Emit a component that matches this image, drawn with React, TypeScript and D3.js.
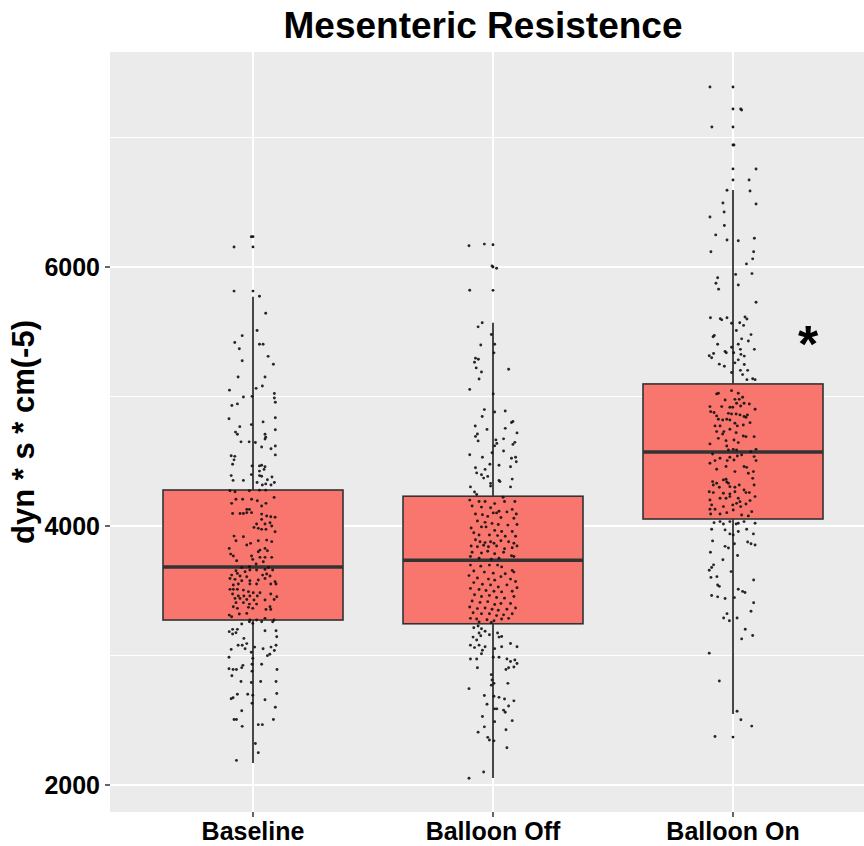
import * as d3 from "d3";

// Group labels and the box statistics (dyn * s * cm(-5))
const categories = ["Baseline", "Balloon Off", "Balloon On"];
const boxLower = [2170, 2054, 2548];
const boxQ1 = [3274, 3245, 4054];
const boxMedian = [3683, 3735, 4571];
const boxQ3 = [4278, 4230, 5097];
const boxUpper = [5770, 5570, 6595];
const boxOutliers = [
  [6234, 6155, 5814],
  [6172, 6000, 5820],
  [7390, 7220, 7081, 6942, 6757, 6672, 2370],
];

const yMajor = [2000, 4000, 6000];
const yMinor = [3000, 5000, 7000];

// jittered observations: [offset in category widths, value]
const baselinePts: [number, number][] = [
  [-0.007, 6234], [-0.079, 6155], [-0.079, 5814], [0.027, 5774], [0.053, 5643], [0.017, 5510], [-0.045, 5470],
  [-0.076, 5417], [0.027, 5404], [0.042, 5404], [-0.057, 5369], [0.063, 5310], [-0.045, 5276], [0.085, 5249],
  [-0.062, 5151], [0.05, 5151], [0.039, 5081], [0.013, 5063], [-0.098, 5049], [-0.04, 4996], [-0.004, 5001],
  [0.089, 5023], [0.089, 4988], [0.093, 4956], [-0.088, 4930], [-0.065, 4943], [-0.1, 4828], [0.042, 4804],
  [0.093, 4836], [-0.055, 4767], [-0.073, 4725], [-0.065, 4709], [0.05, 4709], [0.053, 4685], [0.05, 4671],
  [-0.007, 4783], [-0.05, 4650], [-0.016, 4650], [0.01, 4645], [0.036, 4610], [0.075, 4597], [0.093, 4618],
  [0.093, 4743], [0.093, 4549], [-0.091, 4543], [-0.076, 4538], [-0.079, 4511], [-0.085, 4477], [-0.004, 4464],
  [-0.091, 4389], [-0.083, 4352], [-0.04, 4352], [-0.007, 4397], [0.027, 4464], [0.036, 4469], [0.05, 4458],
  [0.027, 4424], [0.046, 4437], [0.027, 4389], [0.036, 4384], [0.079, 4378], [0.06, 4357], [0.017, 4336],
  [0.039, 4317], [0.053, 4325], [0.075, 4317], [0.089, 4336], [0.027, 4277], [0.053, 4277],
  [-0.096, 4272], [-0.075, 4265], [-0.015, 4272], [0.088, 4221], [-0.071, 4206], [-0.043, 4206], [-0.006, 4206],
  [0.018, 4195], [0.054, 4175], [-0.089, 4175], [0.036, 4154], [-0.026, 4128], [-0.015, 4128], [-0.026, 4103],
  [-0.006, 4103], [-0.085, 4097], [-0.054, 4097], [-0.04, 4097], [0.036, 4092], [0.057, 4077], [0.074, 4072],
  [0.092, 4067], [0.036, 4051], [0.071, 4025], [0.015, 4015], [0.05, 4015], [0.004, 3989], [0.022, 3982],
  [0.036, 3974], [0.054, 3974], [0.078, 4000], [0.092, 3956], [-0.079, 3922], [-0.04, 3917], [-0.071, 3886],
  [0.057, 3891], [-0.026, 3853], [-0.01, 3866], [0.022, 3886], [0.078, 3879], [-0.099, 3827], [0.05, 3827],
  [0.029, 3814], [0.022, 3801], [0.06, 3809], [-0.093, 3783], [-0.082, 3768], [-0.068, 3732], [-0.006, 3768],
  [-0.001, 3742], [0.029, 3758], [0.05, 3758], [0.078, 3758], [0.043, 3724], [0.013, 3706], [-0.015, 3686],
  [-0.047, 3680], [0.064, 3680], [-0.071, 3655], [-0.065, 3634], [-0.033, 3647], [-0.013, 3660], [0.015, 3660],
  [0.05, 3665], [0.082, 3660], [-0.089, 3621], [-0.054, 3614], [-0.026, 3608], [0.04, 3621], [0.057, 3629],
  [0.071, 3614], [-0.096, 3595], [-0.075, 3588], [-0.047, 3577], [-0.013, 3577], [0.022, 3583], [0.05, 3595],
  [0.092, 3570], [0.096, 3552], [-0.061, 3552], [-0.013, 3552], [0.015, 3552], [-0.082, 3544], [0.074, 3552],
  [-0.096, 3511], [-0.082, 3511], [-0.065, 3511], [-0.04, 3505], [-0.019, 3493], [0.001, 3485], [0.029, 3485],
  [0.074, 3475], [-0.085, 3475], [-0.061, 3459], [-0.038, 3459], [-0.013, 3459], [0.018, 3459], [0.099, 3454],
  [-0.075, 3441], [-0.054, 3441], [-0.026, 3433], [0.004, 3428], [0.05, 3428], [0.088, 3433], [-0.071, 3408],
  [-0.04, 3408], [-0.015, 3397], [0.015, 3397], [-0.082, 3377], [-0.065, 3364], [-0.019, 3372], [-0.001, 3364],
  [0.054, 3356], [0.071, 3377], [0.074, 3356], [-0.099, 3312], [-0.089, 3299], [-0.057, 3320], [-0.026, 3325],
  [-0.013, 3274], [0.015, 3274], [0.05, 3287], [0.082, 3261], [0.088, 3274],
  [-0.085, 3202], [-0.065, 3202], [-0.047, 3243], [-0.015, 3261], [-0.001, 3248], [0.036, 3261], [0.05, 3191],
  [0.096, 3191], [-0.099, 3184], [-0.085, 3166], [-0.071, 3176], [-0.038, 3132], [0.099, 3145],
  [-0.062, 3079], [-0.045, 3079], [-0.026, 3092], [-0.033, 3052], [-0.007, 3025], [-0.091, 3047], [-0.1, 2986],
  [0.007, 3065], [0.042, 3052], [0.075, 3065], [0.089, 3039], [0.06, 2999], [0.07, 3010], [0.096, 3079],
  [-0.001, 2978], [0.036, 2932], [-0.1, 2898], [-0.083, 2892], [-0.069, 2892], [-0.047, 2906], [-0.042, 2924],
  [-0.004, 2932], [-0.004, 2879], [0.1, 2892], [-0.088, 2844], [-0.05, 2799], [-0.007, 2791], [0.032, 2799],
  [0.096, 2799], [-0.065, 2701], [-0.083, 2674], [-0.091, 2666], [-0.022, 2701], [-0.001, 2693], [0.05, 2658],
  [0.099, 2706], [-0.004, 2631], [0.093, 2600], [-0.047, 2573], [-0.079, 2506], [-0.069, 2506], [-0.045, 2453],
  [0.085, 2506], [0.022, 2466], [0.039, 2466], [0.01, 2320], [0.022, 2250], [-0.069, 2190],
];

const balloonOffPts: [number, number][] = [
  [-0.1, 6164], [-0.036, 6177], [-0.004, 6008], [0.015, 5990], [-0.097, 5820], [-0.062, 5538], [-0.045, 5570],
  [-0.007, 5479], [-0.051, 5398], [0.007, 5404], [0.004, 5337], [-0.073, 5296], [-0.061, 5288], [-0.077, 5264],
  [-0.07, 5221], [-0.048, 5189], [0.065, 5210], [-0.058, 5135], [-0.097, 5055], [0.001, 5020], [-0.036, 4899],
  [-0.045, 4845], [0.007, 4880], [0.051, 4888], [0.077, 4799], [0.083, 4807], [-0.074, 4772], [-0.025, 4746],
  [0.051, 4754], [-0.065, 4711], [-0.073, 4692], [0.012, 4665], [0.016, 4638], [0.007, 4619], [0.044, 4673],
  [-0.062, 4657], [0.1, 4719], [0.091, 4646], [0.083, 4630], [0.044, 4579], [-0.004, 4566], [-0.097, 4550],
  [-0.044, 4531], [0.094, 4531], [0.077, 4523], [0.097, 4496], [0.073, 4458], [0.025, 4469], [-0.013, 4477],
  [-0.073, 4450], [-0.068, 4410], [-0.048, 4396], [-0.033, 4437], [-0.022, 4383], [-0.039, 4370], [-0.01, 4329],
  [-0.01, 4308], [0.025, 4351], [0.029, 4343], [0.08, 4362], [0.073, 4302], [-0.094, 4302], [-0.077, 4262],
  [-0.068, 4243], [0.042, 4222],
  [-0.097, 4200], [-0.058, 4189], [-0.033, 4189], [0.007, 4173], [0.048, 4189], [0.091, 4189], [-0.087, 4154],
  [-0.048, 4146], [-0.01, 4141], [0.025, 4114], [0.058, 4109], [0.08, 4128], [-0.073, 4093], [-0.044, 4087],
  [-0.022, 4074], [0.001, 4101], [0.015, 4101], [0.033, 4066], [0.087, 4060], [0.097, 4093], [-0.065, 4039],
  [-0.033, 4028], [-0.004, 4020], [0.022, 4012], [0.062, 4007], [0.1, 4012], [-0.091, 3985], [-0.048, 3993],
  [-0.029, 3993], [0.007, 3966], [0.036, 3958], [0.08, 3958], [-0.08, 3948], [-0.058, 3931], [-0.015, 3931],
  [0.019, 3926], [0.051, 3921], [0.094, 3921], [-0.073, 3894], [-0.054, 3878], [-0.033, 3872], [-0.01, 3878],
  [0.004, 3867], [0.033, 3886], [0.065, 3878], [0.087, 3867], [-0.091, 3845], [-0.065, 3840], [-0.039, 3851],
  [-0.019, 3840], [0.015, 3845], [0.048, 3824], [0.08, 3832], [0.1, 3845], [-0.087, 3797], [-0.048, 3792],
  [-0.022, 3805], [0.007, 3786], [0.044, 3797], [0.077, 3770], [0.087, 3765], [-0.094, 3765], [-0.058, 3751],
  [-0.007, 3743], [0.025, 3751],
  [-0.094, 3698], [-0.051, 3690], [-0.015, 3698], [0.019, 3698], [0.036, 3684], [0.08, 3657], [-0.08, 3652],
  [-0.036, 3644], [0.001, 3636], [0.051, 3631], [0.087, 3644], [-0.1, 3617], [-0.065, 3598], [-0.019, 3590],
  [0.007, 3582], [0.033, 3609], [0.073, 3590], [0.094, 3572], [-0.08, 3563], [-0.044, 3550], [-0.01, 3545],
  [0.022, 3529], [0.058, 3545], [-0.094, 3518], [-0.058, 3510], [-0.029, 3502], [0.004, 3496], [0.036, 3491],
  [0.08, 3496], [0.1, 3523], [-0.077, 3469], [-0.048, 3456], [-0.015, 3464], [0.015, 3448], [0.048, 3443],
  [0.087, 3456], [-0.087, 3421], [-0.054, 3410], [-0.022, 3416], [0.007, 3394], [0.033, 3402], [0.073, 3402],
  [-0.097, 3375], [-0.065, 3362], [-0.033, 3367], [-0.004, 3357], [0.022, 3349], [0.058, 3357], [0.094, 3367],
  [-0.083, 3330], [-0.048, 3322], [-0.015, 3322], [0.015, 3308], [0.044, 3314], [0.08, 3322], [-0.094, 3287],
  [-0.068, 3282], [-0.025, 3276], [0.004, 3268], [0.036, 3282], [0.065, 3287], [-0.058, 3260], [-0.007, 3255],
  [-0.08, 3214], [-0.062, 3228], [-0.048, 3206], [-0.033, 3187], [-0.058, 3174], [-0.083, 3142], [-0.068, 3120],
  [-0.051, 3152], [-0.015, 3160], [0.019, 3174], [0.025, 3142], [0.036, 3147], [-0.094, 3080], [-0.077, 3061],
  [-0.058, 3080], [-0.044, 3040], [-0.033, 3067], [0.007, 3053], [0.036, 3067], [0.073, 3093], [0.1, 3067],
  [-0.094, 2973], [-0.068, 2973], [-0.048, 3013], [0.001, 2986], [0.025, 2986], [0.058, 2973], [0.073, 2954],
  [0.091, 2965], [0.1, 2938], [0.054, 2892], [0.065, 2905], [0.087, 2911], [-0.065, 2905], [-0.007, 2852],
  [-0.004, 2811], [-0.1, 2744], [0.004, 2785], [0.062, 2785], [-0.036, 2691], [-0.007, 2771], [0.004, 2685],
  [0.025, 2677], [0.048, 2664], [0.087, 2650], [-0.025, 2623], [0.065, 2610], [0.007, 2588], [0.016, 2588],
  [0.044, 2578], [0.051, 2562], [-0.044, 2529], [0.007, 2489], [0.08, 2497], [-0.036, 2449], [-0.062, 2408],
  [0.054, 2427], [-0.022, 2368], [-0.015, 2347], [0.004, 2341], [0.058, 2288], [-0.039, 2100], [-0.1, 2052],
];

const balloonOnPts: [number, number][] = [
  [-0.096, 7390], [0.032, 7220], [0.036, 7212], [-0.088, 7081], [0.004, 6942], [0.096, 6757], [0.067, 6672],
  [-0.025, 6593], [0.071, 6587], [-0.042, 6494], [0.096, 6486], [-0.037, 6425], [-0.096, 6386],
  [-0.036, 6320], [-0.072, 6248], [-0.025, 6209], [0.022, 6203], [0.089, 6222], [-0.092, 6118], [0.086, 6118],
  [0.082, 6063], [0.056, 6024], [0.011, 5943], [0.079, 5949], [-0.064, 5917], [-0.071, 5874], [0.022, 5861],
  [-0.06, 5829], [0.096, 5728], [-0.094, 5608], [-0.053, 5601], [-0.047, 5592], [-0.025, 5608], [-0.006, 5566],
  [0.05, 5614], [0.058, 5598], [0.028, 5569], [0.044, 5549], [0.014, 5510], [0.075, 5478], [-0.078, 5471],
  [-0.083, 5461], [0.036, 5445], [0.022, 5403], [0.064, 5429], [-0.064, 5403], [0.089, 5364], [-0.006, 5380],
  [0.031, 5364], [0.003, 5338], [-0.033, 5348], [-0.028, 5338], [-0.099, 5315], [-0.081, 5332], [-0.089, 5299],
  [0.033, 5325], [0.047, 5312], [0.022, 5283], [0.008, 5260], [0.047, 5247], [-0.057, 5250], [-0.036, 5234],
  [0.031, 5202], [0.061, 5202], [0.04, 5169], [-0.006, 5185], [0.082, 5137], [0.092, 5130], [0.058, 5130],
  [-0.068, 5020], [-0.061, 5025], [-0.006, 5045], [0.022, 5025], [0.04, 4994], [0.008, 4978], [0.026, 4978],
  [-0.033, 4973], [0.015, 4948], [0.046, 4948], [0.032, 4927], [0.068, 4942], [-0.096, 4922], [-0.079, 4876],
  [-0.093, 4883], [-0.047, 4922], [-0.013, 4917], [-0.001, 4917], [0.092, 4901], [-0.068, 4850], [-0.061, 4824],
  [-0.019, 4870], [-0.006, 4865], [0.013, 4865], [0.029, 4858], [0.046, 4845], [0.054, 4840], [0.06, 4858],
  [-0.043, 4819], [-0.026, 4824], [-0.013, 4819], [0.071, 4798], [-0.075, 4773], [-0.054, 4773], [0.008, 4793],
  [0.018, 4773], [0.043, 4780], [-0.068, 4729], [-0.038, 4729], [-0.043, 4711], [-0.013, 4747], [0.013, 4721],
  [0.043, 4695], [0.054, 4690], [0.088, 4690], [-0.061, 4677], [-0.029, 4659], [0.004, 4664], [0.022, 4644],
  [-0.096, 4634], [-0.026, 4618], [-0.019, 4587], [0.001, 4592], [0.015, 4587], [0.074, 4574], [0.096, 4592],
  [-0.085, 4556], [-0.054, 4523], [-0.013, 4531], [0.018, 4541], [0.036, 4549], [0.088, 4536], [-0.096, 4484],
  [-0.075, 4505], [-0.024, 4505], [0.004, 4510], [0.096, 4505], [-0.068, 4438], [-0.029, 4459], [0.008, 4420],
  [0.046, 4459], [0.057, 4453], [0.085, 4420], [0.064, 4407], [-0.085, 4343], [-0.068, 4330], [-0.04, 4356],
  [-0.029, 4361], [-0.026, 4340], [-0.019, 4330], [-0.082, 4317], [-0.057, 4299], [-0.013, 4304], [0.008, 4299],
  [0.026, 4317], [0.046, 4278], [0.082, 4368], [0.088, 4317], [-0.099, 4265], [-0.082, 4258], [-0.04, 4253],
  [-0.013, 4247], [0.008, 4265], [0.022, 4214], [0.054, 4258], [0.068, 4258], [0.092, 4227], [-0.096, 4201],
  [-0.054, 4214], [-0.029, 4214], [-0.013, 4227], [0.029, 4188], [0.071, 4196], [-0.089, 4163], [-0.04, 4150],
  [-0.001, 4163], [0.015, 4175], [0.032, 4150], [0.054, 4170], [0.078, 4111], [-0.096, 4129], [-0.075, 4129],
  [-0.054, 4093], [-0.026, 4103], [0.001, 4124], [0.036, 4085], [0.064, 4078], [-0.093, 4093],
  [-0.079, 4026], [-0.054, 4034], [-0.04, 4016], [-0.013, 4034], [0.013, 4016], [0.022, 4021], [0.046, 4034],
  [0.092, 4021], [-0.089, 3975], [-0.033, 3970], [-0.013, 3939], [0.001, 3931], [0.022, 3957], [0.057, 3975],
  [0.085, 3939], [-0.085, 3885], [-0.033, 3843], [0.006, 3863], [-0.019, 3830], [0.061, 3876], [0.075, 3863],
  [0.092, 3853], [-0.094, 3797], [0.019, 3772], [-0.042, 3739], [-0.008, 3648], [-0.099, 3658], [-0.089, 3680],
  [-0.081, 3700], [-0.067, 3609], [-0.092, 3603], [0.086, 3583], [-0.064, 3544], [-0.057, 3534], [0.022, 3512],
  [0.04, 3495], [0.05, 3486], [-0.033, 3440], [-0.089, 3463], [-0.064, 3453], [0.006, 3447], [0.086, 3407],
  [-0.025, 3323], [-0.039, 3290], [0.075, 3342], [0.017, 3290], [-0.015, 3268], [0.051, 3203], [0.036, 3128],
  [0.082, 3154], [-0.099, 3018], [-0.057, 2803], [0.017, 2569], [0.033, 2504], [0.078, 2455], [-0.075, 2374],
];

const groupPoints = [baselinePts, balloonOffPts, balloonOnPts];

const W = 864;
const H = 846;
const panel = { left: 110, top: 52, bottom: 812 };
const font = "'Liberation Sans', Arial, sans-serif";
const ink = "#333333";

export default function App() {
  const x = d3.scalePoint<string>().domain(categories).range([253, 733]);
  const step = x.step();
  const boxW = step * 0.75;
  const y = d3.scaleLinear().domain([2000, 6000]).range([785, 267]);

  return (
    <div style={{ position: "absolute", left: 0, top: 0 }}>
      <svg width={W} height={H} style={{ display: "block", fontFamily: font }}>
        <rect x={0} y={0} width={W} height={H} fill="#ffffff" />
        <rect
          x={panel.left}
          y={panel.top}
          width={W - panel.left}
          height={panel.bottom - panel.top}
          fill="#EBEBEB"
        />

        {/* grid */}
        {yMinor.map((v) => (
          <line key={`mn${v}`} x1={panel.left} x2={W} y1={y(v)} y2={y(v)} stroke="#fff" strokeWidth={1} />
        ))}
        {yMajor.map((v) => (
          <line key={`mj${v}`} x1={panel.left} x2={W} y1={y(v)} y2={y(v)} stroke="#fff" strokeWidth={2} />
        ))}
        {categories.map((c) => (
          <line key={`vg${c}`} x1={x(c)} x2={x(c)} y1={panel.top} y2={panel.bottom} stroke="#fff" strokeWidth={2} />
        ))}

        {/* boxplots */}
        {categories.map((c, i) => {
          const cx = x(c) ?? 0;
          return (
            <g key={`box${c}`}>
              <line x1={cx} x2={cx} y1={y(boxUpper[i])} y2={y(boxQ3[i])} stroke={ink} strokeWidth={1.8} />
              <line x1={cx} x2={cx} y1={y(boxQ1[i])} y2={y(boxLower[i])} stroke={ink} strokeWidth={1.8} />
              <rect
                x={cx - boxW / 2}
                y={y(boxQ3[i])}
                width={boxW}
                height={y(boxQ1[i]) - y(boxQ3[i])}
                fill="#F8766D"
                stroke={ink}
                strokeWidth={1.6}
              />
              <line
                x1={cx - boxW / 2}
                x2={cx + boxW / 2}
                y1={y(boxMedian[i])}
                y2={y(boxMedian[i])}
                stroke={ink}
                strokeWidth={3.4}
              />
              {boxOutliers[i].map((v, k) => (
                <circle key={k} cx={cx} cy={y(v)} r={1.4} fill="#1a1a1a" />
              ))}
            </g>
          );
        })}

        {/* jittered observations */}
        {categories.map((c, i) => (
          <g key={`pts${c}`}>
            {groupPoints[i].map(([j, v], k) => (
              <circle key={k} cx={(x(c) ?? 0) + j * step} cy={y(v)} r={1.45} fill="#111" opacity={0.9} />
            ))}
          </g>
        ))}

        {/* significance marker */}
        <text x={808} y={362} textAnchor="middle" fontSize={52} fontWeight="bold" fill="#000">
          *
        </text>

        {/* y axis */}
        {yMajor.map((v) => (
          <g key={`yt${v}`}>
            <line x1={panel.left - 5} x2={panel.left} y1={y(v)} y2={y(v)} stroke={ink} strokeWidth={1.5} />
            <text
              x={panel.left - 10}
              y={y(v)}
              dy="0.36em"
              textAnchor="end"
              fontSize={25}
              fontWeight="bold"
              fill="#000"
            >
              {v}
            </text>
          </g>
        ))}

        {/* x axis */}
        {categories.map((c) => (
          <g key={`xt${c}`}>
            <line x1={x(c)} x2={x(c)} y1={panel.bottom} y2={panel.bottom + 5} stroke={ink} strokeWidth={1.5} />
            <text x={x(c)} y={840} textAnchor="middle" fontSize={25} fontWeight="bold" fill="#000">
              {c}
            </text>
          </g>
        ))}

        <text
          transform={`translate(34, ${(panel.top + panel.bottom) / 2}) rotate(-90)`}
          textAnchor="middle"
          fontSize={31}
          fontWeight="bold"
          fill="#000"
        >
          dyn * s * cm(-5)
        </text>

        <text x={483} y={38} textAnchor="middle" fontSize={37} fontWeight="bold" fill="#000">
          Mesenteric Resistence
        </text>
      </svg>
    </div>
  );
}
